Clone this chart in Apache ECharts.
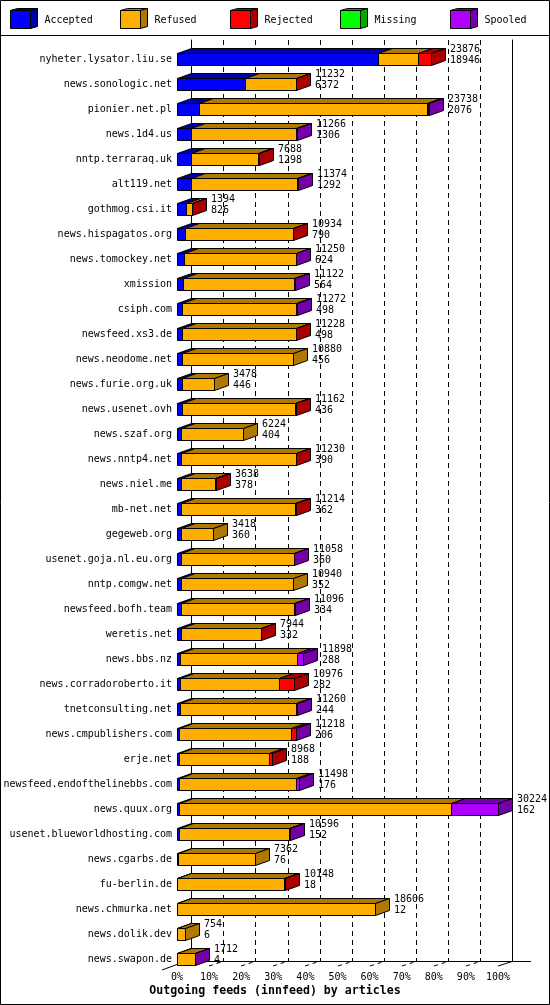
<!DOCTYPE html>
<html>
<head>
<meta charset="utf-8">
<script src="https://cdn.jsdelivr.net/npm/echarts@6/dist/echarts.min.js"></script>
<style>
html,body{margin:0;padding:0;background:#fff;}
#c{width:550px;height:1005px;}
</style>
</head>
<body>
<div id="c"></div>
<script>
const categories = ['nyheter.lysator.liu.se','news.sonologic.net','pionier.net.pl','news.1d4.us','nntp.terraraq.uk','alt119.net','gothmog.csi.it','news.hispagatos.org','news.tomockey.net','xmission','csiph.com','newsfeed.xs3.de','news.neodome.net','news.furie.org.uk','news.usenet.ovh','news.szaf.org','news.nntp4.net','news.niel.me','mb-net.net','gegeweb.org','usenet.goja.nl.eu.org','nntp.comgw.net','newsfeed.bofh.team','weretis.net','news.bbs.nz','news.corradoroberto.it','tnetconsulting.net','news.cmpublishers.com','erje.net','newsfeed.endofthelinebbs.com','news.quux.org','usenet.blueworldhosting.com','news.cgarbs.de','fu-berlin.de','news.chmurka.net','news.dolik.dev','news.swapon.de'];
const offered  = [23876,11232,23738,11266,7688,11374,1394,10934,11250,11122,11272,11228,10880,3478,11162,6224,11230,3638,11214,3418,11058,10940,11096,7944,11898,10976,11260,11218,8968,11498,30224,10596,7362,10148,18606,754,1712];
const accepted = [18946,6372,2076,1306,1298,1292,826,790,624,564,498,498,456,446,436,404,390,378,362,360,360,352,334,332,288,282,244,206,188,176,162,152,76,18,12,6,4];
const refused  = [3740,4800,21490,9910,6310,9990,550,10100,10560,10460,10680,10660,10424,3032,10660,5820,10780,3200,10790,3058,10620,10588,10690,7552,11020,9360,10950,10520,8520,11070,25612,10380,7286,10060,18594,748,1650];
const rejected = [1190,60,80,0,80,0,18,44,0,0,0,70,0,0,66,0,60,60,62,0,0,0,0,60,0,1334,0,440,260,0,0,0,0,70,0,0,0];
const missing  = [0,0,0,0,0,0,0,0,0,0,0,0,0,0,0,0,0,0,0,0,0,0,0,0,0,0,0,0,0,0,0,0,0,0,0,0,0];
const spooled  = [0,0,92,50,0,92,0,0,66,98,94,0,0,0,0,0,0,0,0,0,78,0,72,0,590,0,66,52,0,252,4450,64,0,0,0,0,58];
const xTickLabels = ['0%','10%','20%','30%','40%','50%','60%','70%','80%','90%','100%'];
const seriesNames = ['Accepted','Refused','Rejected','Missing','Spooled'];
const frontColors = ['#0000FF','#FFAF00','#FF0000','#00FF00','#AF00FF'];
const darkColors  = ['#0000AA','#AF7800','#AA0000','#00AA00','#7500AA'];
const titleText = 'Outgoing feeds (innfeed) by articles';

const layers = [accepted, refused, rejected, missing, spooled];
const maxTotal = Math.max.apply(null, offered);
const FONT = '"DejaVu Sans Mono", "Liberation Mono", monospace';
const DX = 14, DY = 5, BH = 12;
const snap = v => Math.round(v) + 0.5;

function makeRender(k) {
  return function (params, api) {
    const i = api.value(1);
    const v = layers[k][i];
    if (!v) return null;
    let start = 0;
    for (let j = 0; j < k; j++) start += layers[j][i];
    const end = start + v;
    const a = api.coord([start, i]);
    const b = api.coord([end, i]);
    const x0 = snap(a[0]), x1 = snap(b[0]);
    const y0 = snap(a[1] - BH / 2), y1 = snap(a[1] + BH / 2);
    let last = true;
    for (let j = k + 1; j < layers.length; j++) if (layers[j][i] > 0) last = false;
    const st = (fill) => ({ fill: fill, stroke: '#000', lineWidth: 1 });
    const children = [
      { type: 'polygon', shape: { points: [[x0, y0], [x1, y0], [x1 + DX, y0 - DY], [x0 + DX, y0 - DY]] }, style: st(darkColors[k]) },
      { type: 'rect', shape: { x: x0, y: y0, width: x1 - x0, height: y1 - y0 }, style: st(frontColors[k]) }
    ];
    if (last) {
      children.push({ type: 'polygon', shape: { points: [[x1, y0], [x1 + DX, y0 - DY], [x1 + DX, y1 - DY], [x1, y1]] }, style: st(darkColors[k]) });
    }
    return { type: 'group', children: children };
  };
}

const series = seriesNames.map((name, k) => ({
  name: name,
  type: 'custom',
  xAxisIndex: 0, yAxisIndex: 0,
  renderItem: makeRender(k),
  clip: false,
  encode: { x: 0, y: 1 },
  data: layers[k].map((v, i) => [v, i]),
  z: 3
}));
series.push({
  name: 'labels',
  type: 'custom',
  xAxisIndex: 0, yAxisIndex: 0,
  clip: false,
  encode: { x: 0, y: 1 },
  data: offered.map((v, i) => [v, i]),
  z: 4,
  renderItem: function (params, api) {
    const i = api.value(1);
    const p = api.coord([offered[i], i]);
    return {
      type: 'text',
      style: {
        text: offered[i] + '\n' + accepted[i],
        x: Math.round(p[0]) + DX + 5,
        y: p[1] - 15.5,
        fill: '#000',
        font: '10px ' + FONT,
        lineHeight: 11.5,
        verticalAlign: 'top',
        align: 'left'
      }
    };
  }
});

const chart = echarts.init(document.getElementById('c'), null, { renderer: 'canvas' });

const legendGraphics = [];
seriesNames.forEach((name, k) => {
  const x0 = 10.5 + 110 * k;
  legendGraphics.push({ type: 'polygon', shape: { points: [[x0, 10.5], [x0 + 20, 10.5], [x0 + 27, 8.5], [x0 + 7, 8.5]] }, style: { fill: darkColors[k], stroke: '#000', lineWidth: 1 } });
  legendGraphics.push({ type: 'polygon', shape: { points: [[x0 + 20, 10.5], [x0 + 27, 8.5], [x0 + 27, 26.5], [x0 + 20, 28.5]] }, style: { fill: darkColors[k], stroke: '#000', lineWidth: 1 } });
  legendGraphics.push({ type: 'rect', shape: { x: x0, y: 10.5, width: 20, height: 18 }, style: { fill: frontColors[k], stroke: '#000', lineWidth: 1 } });
  legendGraphics.push({ type: 'text', style: { text: name, x: x0 + 34, y: 20, font: '10px ' + FONT, fill: '#000', verticalAlign: 'middle' } });
});

const option = {
  animation: false,
  backgroundColor: '#fff',
  title: {
    text: titleText, left: 'center', top: 985, padding: 0,
    textStyle: { fontFamily: FONT, fontSize: 11.6, fontWeight: 'bold', color: '#000' }
  },
  grid: [
    { left: 177, right: 52, top: 46.5, bottom: 33.5 },
    { left: 191.5, right: 37.5, top: 40, bottom: 44 }
  ],
  xAxis: [
    {
      gridIndex: 0, type: 'value', min: 0, max: maxTotal, interval: maxTotal / 10,
      axisLine: { show: false }, axisTick: { show: false }, splitLine: { show: false },
      axisLabel: {
        margin: 1, fontFamily: FONT, fontSize: 10, color: '#000',
        formatter: (v) => xTickLabels[Math.round(v / maxTotal * 10)]
      }
    },
    {
      gridIndex: 1, type: 'value', min: 0, max: maxTotal, interval: maxTotal / 10,
      axisLine: { show: false }, axisTick: { show: false }, axisLabel: { show: false },
      splitLine: { show: true, lineStyle: { color: '#000', width: 1, type: [5, 4] } }
    }
  ],
  yAxis: [
    {
      gridIndex: 0, type: 'category', inverse: true, data: categories,
      axisLine: { show: false }, axisTick: { show: false }, splitLine: { show: false },
      axisLabel: { margin: 5, fontFamily: FONT, fontSize: 10, color: '#000', interval: 0 }
    },
    {
      gridIndex: 1, type: 'category', inverse: true, data: categories, position: 'left',
      axisLine: { show: true, lineStyle: { color: '#000', width: 1 } },
      axisTick: { show: false }, axisLabel: { show: false }, splitLine: { show: false }
    },
    {
      gridIndex: 1, type: 'category', inverse: true, data: categories, position: 'right',
      axisLine: { show: true, lineStyle: { color: '#000', width: 1 } },
      axisTick: { show: false }, axisLabel: { show: false }, splitLine: { show: false }
    }
  ],
  series: series
};
chart.setOption(option);

// floor lines derived from the axis scale
const floorGraphics = [];
const backY = 961.5, frontY = 966;
const x0px = chart.convertToPixel({ xAxisIndex: 0 }, 0);
floorGraphics.push({ type: 'line', shape: { x1: x0px, y1: backY, x2: 531, y2: backY }, style: { stroke: '#000', lineWidth: 1 }, z: 1 });
floorGraphics.push({ type: 'line', shape: { x1: x0px - 15, y1: 970, x2: x0px, y2: 964.5 }, style: { stroke: '#000', lineWidth: 1 }, z: 1 });
for (let t = 1; t <= 10; t++) {
  const xp = Math.round(chart.convertToPixel({ xAxisIndex: 0 }, maxTotal * t / 10));
  floorGraphics.push({
    type: 'line', shape: { x1: xp, y1: frontY, x2: xp + DX, y2: backY },
    style: { stroke: '#000', lineWidth: 1, lineDash: t === 10 ? null : [4, 4] }, z: 1
  });
}

chart.setOption({
  graphic: [
    { type: 'rect', shape: { x: 0.5, y: 0.5, width: 549, height: 1004 }, style: { fill: 'none', stroke: '#000', lineWidth: 1 }, z: 10 },
    { type: 'line', shape: { x1: 0, y1: 35.5, x2: 550, y2: 35.5 }, style: { stroke: '#000', lineWidth: 1 }, z: 10 }
  ].concat(legendGraphics).concat(floorGraphics)
});
</script>
</body>
</html>
